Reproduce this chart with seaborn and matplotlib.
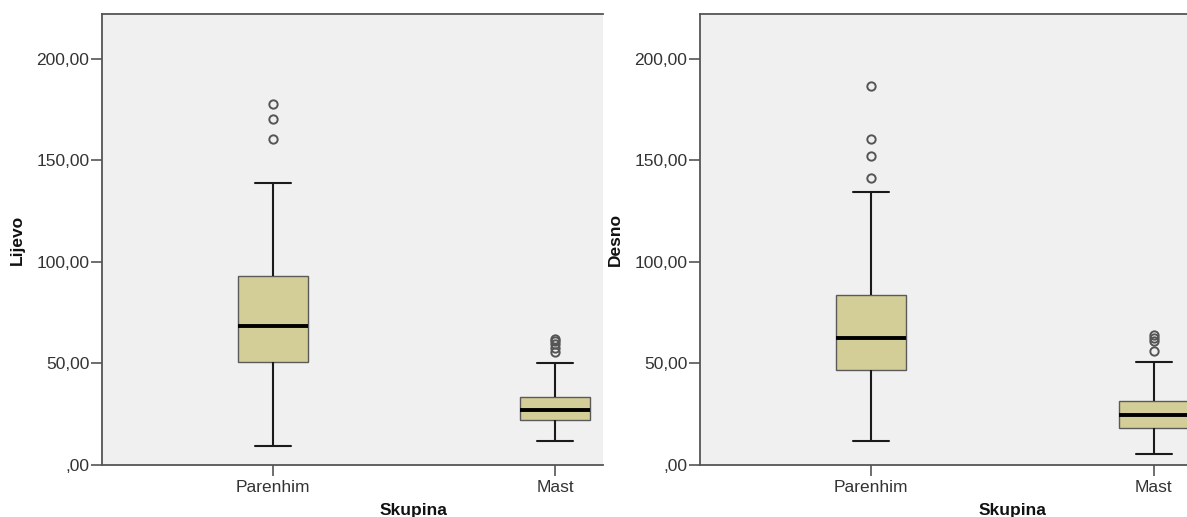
# coding=utf-8
# filename: plot.py

import matplotlib
matplotlib.use('Agg')
import matplotlib.pyplot as plt
import matplotlib.transforms as mtransforms
from matplotlib.ticker import FuncFormatter
import numpy as np
import pandas as pd
import seaborn as sns


groups = ['Parenhim', 'Mast']

# five number summaries: low whisker, Q1, median, Q3, high whisker
lijevo_stats = {
    'Parenhim': [9.4, 50.7, 68.5, 93.2, 138.9],
    'Mast':     [11.9, 22.0, 27.2, 33.4, 50.1],
}
lijevo_outliers = {
    'Parenhim': [160.7, 170.4, 177.8],
    'Mast':     [55.5, 57.5, 59.5, 61.0, 62.0],
}

desno_stats = {
    'Parenhim': [11.6, 47.0, 62.7, 83.9, 134.6],
    'Mast':     [5.5, 18.3, 24.4, 31.7, 50.9],
}
desno_outliers = {
    'Parenhim': [141.5, 152.2, 160.5, 186.4],
    'Mast':     [56.0, 60.9, 62.7, 64.2],
}

y_ticks = [0, 50, 100, 150, 200]

font_size = 12.5
box_color = '#D3CE97'
bg_color = '#F0F0F0'
axis_color = '#555555'


def sample_from_stats(stats, outliers):
    # rebuild a sample whose quartiles and whiskers are the values above
    lo, q1, med, q3, hi = stats
    m = len(outliers) + 1
    values = [lo] + [q1] * m + [med] * m + [q3] * m + [hi] * (m - len(outliers)) + list(outliers)
    return values


def build_frame(stats, outliers):
    rows = []
    for g in groups:
        for v in sample_from_stats(stats[g], outliers[g]):
            rows.append({'Skupina': g, 'value': v})
    return pd.DataFrame(rows)


def comma_fmt(v, pos):
    s = '%.2f' % v
    s = s.replace('.', ',')
    if s.startswith('0,'):
        s = s[1:]
    return s


def draw_panel(ax, df, ylabel, xlim, width_px):
    ax.set_facecolor(bg_color)
    sns.boxplot(data=df, x='Skupina', y='value', order=groups, ax=ax,
                color=box_color, saturation=1, width=0.25, whis=1.5,
                boxprops={'facecolor': box_color, 'edgecolor': '#5a5a5a', 'linewidth': 1.0},
                medianprops={'color': 'black', 'linewidth': 2.8},
                whiskerprops={'color': '#1a1a1a', 'linewidth': 1.5},
                capprops={'color': '#1a1a1a', 'linewidth': 1.5},
                flierprops={'marker': 'o', 'markerfacecolor': 'none',
                            'markeredgecolor': '#555555', 'markersize': 6,
                            'markeredgewidth': 1.4})

    ax.set_xlim(*xlim)
    ax.set_ylim(0, 222)
    ax.set_yticks(y_ticks)
    ax.yaxis.set_major_formatter(FuncFormatter(comma_fmt))

    for side in ['left', 'bottom', 'top']:
        ax.spines[side].set_color(axis_color)
        ax.spines[side].set_linewidth(1.3)
    ax.spines['right'].set_visible(False)

    ax.tick_params(axis='both', colors=axis_color, labelcolor='#333333',
                   labelsize=font_size, length=8, width=1.2, direction='out')
    ax.tick_params(axis='x', pad=3)
    ax.tick_params(axis='y', pad=1)

    ax.set_ylabel(ylabel, fontsize=font_size, fontweight='bold', color='#111111')
    ax.yaxis.set_label_coords(-77.0 / width_px, 0.5)

    ax.set_xlabel('Skupina', fontsize=font_size, fontweight='bold', color='#111111')
    trans = mtransforms.blended_transform_factory(ax.transData, ax.transAxes)
    ax.xaxis.set_label_coords(0.5, -0.085, transform=trans)
    ax.xaxis.label.set_verticalalignment('top')


def main():
    sns.set_theme(style='ticks')
    plt.rcParams['font.family'] = ['Liberation Sans', 'DejaVu Sans']

    fig = plt.figure(figsize=(11.87, 5.17), dpi=100)
    fig.patch.set_facecolor('white')

    ax1 = fig.add_axes([0.0859, 0.1006, 0.4221, 0.8723])
    ax2 = fig.add_axes([0.5897, 0.1006, 0.4103, 0.8723])

    draw_panel(ax1, build_frame(lijevo_stats, lijevo_outliers), 'Lijevo', (-0.606, 1.17), 501)
    draw_panel(ax2, build_frame(desno_stats, desno_outliers), 'Desno', (-0.605, 1.117), 487)

    fig.savefig('out.png', dpi=100)


if __name__ == "__main__":
    main()
